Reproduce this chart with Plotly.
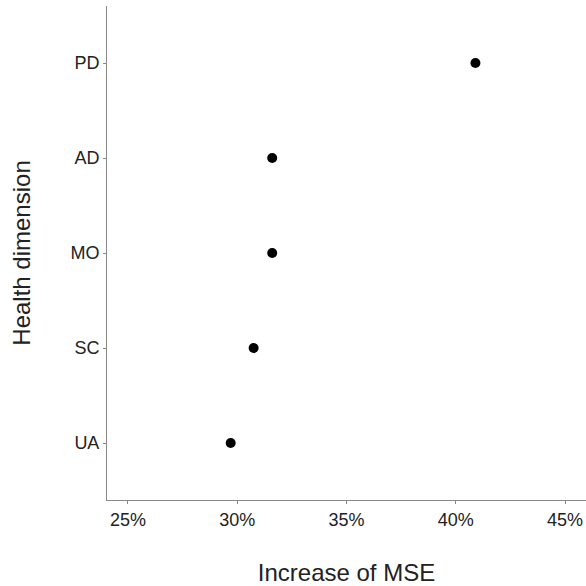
import plotly.graph_objects as go

categories = ["UA", "SC", "MO", "AD", "PD"]
mse_increase = [29.7, 30.75, 31.6, 31.6, 40.9]
x_ticks = [25, 30, 35, 40, 45]
x_tick_labels = ["25%", "30%", "35%", "40%", "45%"]

fig = go.Figure(go.Scatter(
    x=mse_increase, y=categories, mode="markers",
    marker=dict(color="black", size=10),
    showlegend=False, cliponaxis=False,
))

fig.update_layout(
    width=586, height=586,
    margin=dict(l=107, r=0, t=6, b=86),
    paper_bgcolor="white", plot_bgcolor="white",
    font=dict(family="Liberation Sans, Arial, sans-serif", color="#222", size=18),
)
fig.update_xaxes(
    range=[24.04, 45.96], tickmode="array", tickvals=x_ticks, ticktext=x_tick_labels,
    showgrid=False, zeroline=False, showline=True, linecolor="#888", linewidth=1,
    ticks="outside", ticklen=3, tickcolor="#888",
    tickfont=dict(size=18, color="#222"),
    title=dict(text="Increase of MSE", font=dict(size=24, color="#222"), standoff=35),
)
fig.update_yaxes(
    type="category", categoryorder="array", categoryarray=categories,
    range=[-0.6, 4.6],
    showgrid=False, zeroline=False, showline=True, linecolor="#888", linewidth=1,
    ticks="outside", ticklen=3, tickcolor="#888",
    tickfont=dict(size=18, color="#222"),
    title=dict(text="Health dimension", font=dict(size=24, color="#222"), standoff=33),
)

fig.write_html("out.html")
